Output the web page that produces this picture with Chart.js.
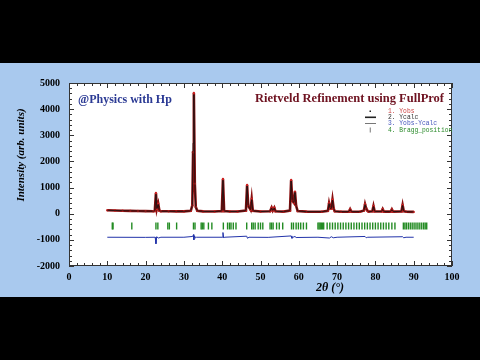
<!DOCTYPE html>
<html><head><meta charset="utf-8">
<script src="https://cdn.jsdelivr.net/npm/chart.js@4"></script>
<style>html,body{margin:0;padding:0;background:#000;}canvas{display:block;}</style>
</head><body>
<canvas id="c" width="480" height="360"></canvas>
<script>
// ---- data ----
const xObs = [10,12,14,16,18,20,22,22.4,22.7,22.95,23.3,23.6,24,26,28,30,31.8,32.2,32.4,32.6,32.85,33.1,33.5,35,38,39.9,40.2,40.5,42,44,46.2,46.5,46.8,47.4,47.7,48.0,50,52.5,52.9,53.2,53.6,53.9,56,57.7,58.0,58.3,58.7,59.0,59.3,59.7,62,66,67.6,67.9,68.2,68.5,68.8,69.1,69.4,71,73.1,73.4,73.7,76,77.0,77.3,77.6,77.9,78.2,79.2,79.5,79.8,81.6,81.9,82.2,84.0,84.3,84.6,86.8,87.1,87.4,88,90];
const yObs = [130,122,116,110,105,100,95,105,790,180,380,115,95,92,90,88,110,320,2350,4620,1150,260,110,88,85,100,1330,100,85,85,120,1100,300,150,560,110,82,95,230,120,230,95,80,120,1290,500,420,840,300,100,80,78,110,400,200,200,540,200,90,78,80,170,80,78,120,360,200,120,80,90,290,90,85,175,80,80,165,80,90,330,100,75,70];
const yCalc = [130,122,116,110,105,100,95,105,740,190,360,115,95,92,90,88,110,330,2700,4550,1150,260,110,88,85,100,1280,100,85,85,120,1060,300,150,540,110,82,95,220,120,220,95,80,120,1250,500,420,820,300,100,80,78,110,390,200,200,520,200,90,78,80,165,80,78,120,350,200,120,80,90,280,90,85,170,80,80,160,80,90,320,100,75,70];
const xDiff = [10,20,22.5,22.7,22.9,23.3,24,30,32.3,32.5,32.6,32.8,33.0,33.3,40.0,40.2,40.4,40.6,46.4,46.6,47,52,58.0,58.2,58.5,59.0,59.3,65,68.0,68.5,69,70,77.3,77.6,78,87.1,87.4,88,90];
const yDiff = [-900,-905,-900,-1150,-880,-930,-900,-900,-870,-800,-1000,-850,-930,-900,-900,-720,-930,-900,-860,-940,-900,-905,-850,-940,-900,-870,-910,-900,-930,-880,-920,-900,-870,-920,-900,-880,-920,-900,-900];
const braggPos = [11.3,11.5,16.4,22.7,23.2,25.8,26.2,28.1,32.5,32.9,34.5,34.8,35.2,36.4,37.3,40.3,41.4,41.9,42.3,42.9,43.6,46.4,47.7,48.1,48.6,49.4,50.0,50.6,52.5,52.9,53.3,54.2,54.9,55.8,58.1,58.6,59.3,59.9,60.5,61.2,62.0,65.0,65.3,65.6,65.9,66.2,66.5,67.4,68.1,68.8,69.5,70.2,70.9,71.6,72.3,73.0,73.7,74.4,75.1,75.8,76.5,77.2,77.9,78.6,79.3,80.0,80.7,81.4,82.1,82.8,83.5,84.3,85.1,87.3,87.7,88.1,88.6,89.1,89.6,90.1,90.6,91.1,91.6,92.1,92.6,93.0,93.4];
const braggLevel = -470;
const xTicks = [0,10,20,30,40,50,60,70,80,90,100];
const yTicks = [-2000,-1000,0,1000,2000,3000,4000,5000];
const legendLabels = ["1. Yobs","2. Ycalc","3. Yobs-Ycalc","4. Bragg_position"];

const pts = (xs, ys) => xs.map((x,i)=>({x:x, y:ys[i]}));

const framePlugin = {
  id:'frame',
  beforeDraw(chart){
    const ctx = chart.ctx, a = chart.chartArea;
    ctx.save();
    ctx.fillStyle = '#000';
    ctx.fillRect(0,0,chart.width,chart.height);
    ctx.fillStyle = '#a9c9ee';
    ctx.fillRect(0,63,chart.width,234);
    ctx.fillStyle = '#fff';
    ctx.fillRect(a.left,a.top,a.right-a.left,a.bottom-a.top);
    ctx.restore();
  },
  afterDraw(chart){
    const ctx = chart.ctx, a = chart.chartArea;
    const xs = chart.scales.x, ys = chart.scales.y;
    ctx.save();
    ctx.strokeStyle = '#333';
    ctx.lineWidth = 1;
    ctx.strokeRect(a.left+0.5,a.top+0.5,a.right-a.left-1,a.bottom-a.top-1);
    ctx.beginPath();
    for(let v=0; v<=100; v+=2){
      const px = Math.round(xs.getPixelForValue(v))+0.5;
      const L = (v%10===0)?5:3;
      ctx.moveTo(px,a.top); ctx.lineTo(px,a.top+L);
      ctx.moveTo(px,a.bottom); ctx.lineTo(px,a.bottom-L);
    }
    for(let v=-2000; v<=5000; v+=200){
      const py = Math.round(ys.getPixelForValue(v))+0.5;
      const L = (v%1000===0)?5:3;
      ctx.moveTo(a.left,py); ctx.lineTo(a.left+L,py);
      ctx.moveTo(a.right,py); ctx.lineTo(a.right-L,py);
    }
    ctx.stroke();

    // texts
    ctx.textBaseline = 'middle';
    ctx.fillStyle = '#2b3a94';
    ctx.font = 'bold 12px "Liberation Serif"';
    ctx.textAlign = 'left';
    ctx.fillText('@Physics with Hp', 78, 100);
    ctx.fillStyle = '#6e1220';
    ctx.font = 'bold 12.5px "Liberation Serif"';
    ctx.textAlign = 'right';
    ctx.fillText('Rietveld Refinement using FullProf', 444, 99);

    // legend
    const cols = ['#cc4444','#333333','#4455bb','#2a8a2a'];
    const rows = [111.5,117.5,123.5,130];
    ctx.font = '6.3px "Liberation Mono"';
    ctx.textAlign = 'left';
    legendLabels.forEach((t,i)=>{ ctx.fillStyle = cols[i]; ctx.fillText(t, 388, rows[i]); });
    ctx.fillStyle = '#222';
    ctx.fillRect(369.5,110.5,1.5,1.5);
    ctx.fillRect(365,116.5,11,1.6);
    ctx.fillStyle = '#555';
    ctx.fillRect(365,123,11,0.8);
    ctx.fillRect(369.8,127.5,0.8,5);

    // axis titles
    ctx.fillStyle = '#000';
    ctx.font = 'italic bold 11px "Liberation Serif"';
    ctx.textAlign = 'center';
    ctx.save();
    ctx.translate(21,155);
    ctx.rotate(-Math.PI/2);
    ctx.fillText('Intensity (arb. units)',0,0);
    ctx.restore();
    ctx.font = 'italic bold 12px "Liberation Serif"';
    ctx.fillText('2\u03B8 (\u00B0)', 330, 288);
    ctx.restore();
  }
};

new Chart(document.getElementById('c'), {
  type:'scatter',
  data:{ datasets:[
    { label:'Ycalc', data:pts(xObs,yCalc), showLine:true, borderColor:'#111', borderWidth:0.8, pointRadius:0, tension:0, order:0 },
    { label:'Yobs', data:pts(xObs,yObs), showLine:true, borderColor:'#8b1010', borderWidth:2.6, pointRadius:1.2, pointBackgroundColor:'#cc2020', pointBorderWidth:0, tension:0, order:1 },
    { label:'Yobs-Ycalc', data:pts(xDiff,yDiff), showLine:true, borderColor:'#2233aa', borderWidth:1, pointRadius:0, tension:0, order:2 },
    { label:'Bragg_position', data:braggPos.map(x=>({x:x,y:braggLevel})), showLine:false, pointStyle:'line', rotation:90, pointRadius:3.5, borderColor:'#228b22', borderWidth:1.4, order:3 }
  ]},
  options:{
    responsive:false, animation:false, events:[],
    layout:{ padding:{ left:0, top:83, right:28, bottom:0 } },
    plugins:{ legend:{display:false}, tooltip:{enabled:false} },
    scales:{
      x:{ type:'linear', min:0, max:100,
        afterBuildTicks(s){ s.ticks = xTicks.map(v=>({value:v})); },
        afterFit(s){ s.height = 94; },
        grid:{display:false, drawTicks:false}, border:{display:false},
        ticks:{ padding:5, color:'#000', font:{family:'"Liberation Serif"', size:10, weight:'bold'}, maxRotation:0, autoSkip:false, callback:v=>String(v) } },
      y:{ type:'linear', min:-2000, max:5000,
        afterBuildTicks(s){ s.ticks = yTicks.map(v=>({value:v})); },
        afterFit(s){ s.width = 69; },
        grid:{display:false, drawTicks:false}, border:{display:false},
        ticks:{ padding:9, color:'#000', font:{family:'"Liberation Serif"', size:10, weight:'bold'}, autoSkip:false, callback:v=>String(v) } }
    }
  },
  plugins:[framePlugin]
});
</script>
</body></html>
